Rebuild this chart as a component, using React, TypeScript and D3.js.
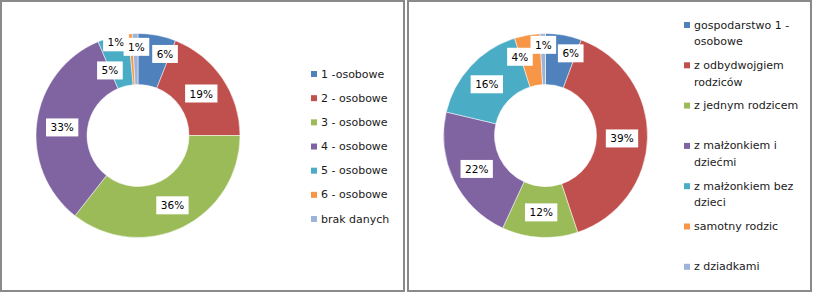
import React from "react";
import * as d3 from "d3";

const leftCategories = ["1 -osobowe", "2 - osobowe", "3 - osobowe", "4 - osobowe", "5 - osobowe", "6 - osobowe", "brak danych"];
const leftValues = [6.0, 19.0, 35.6, 33.0, 4.9, 0.6, 0.9];

const rightCategories = [
  "gospodarstwo 1 -\nosobowe",
  "z odbydwojgiem\nrodziców",
  "z jednym rodzicem",
  "z małżonkiem i\ndziećmi",
  "z małżonkiem bez\ndzieci",
  "samotny rodzic",
  "z dziadkami",
];
const rightValues = [5.7, 39.2, 12.0, 21.8, 16.4, 4.0, 0.9];

const colors = ["#4F81BD", "#C0504D", "#9BBB59", "#8064A2", "#4BACC6", "#F79646", "#9DB3DA"];

// label nudges (layout, px) mimicking Excel's overlap avoidance
const leftNudges: [number, number][] = [[12.7, -6.4], [0, 1], [1, 1], [0, 2], [-9.3, 9.1], [-16.3, -16.9], [0.6, -12.2]];
const rightNudges: [number, number][] = [[11.6, -6.9], [0, 1.5], [0, 0.5], [0, 0], [-2.6, 0.8], [-11.7, -3.5], [0, -14.2]];

const FONT = "DejaVu Sans, Verdana, sans-serif";

let ctx: CanvasRenderingContext2D | null = null;
function textWidth(t: string, size: number) {
  if (!ctx) ctx = document.createElement("canvas").getContext("2d");
  if (!ctx) return t.length * size * 0.6;
  ctx.font = `${size}px ${FONT}`;
  return ctx.measureText(t).width;
}

function Donut({ cx, cy, values, nudges }: { cx: number; cy: number; values: number[]; nudges: [number, number][] }) {
  const outer = 102;
  const inner = 51;
  const pie = d3.pie<number>().sort(null).value((d) => d);
  const arcs = pie(values);
  const arc = d3.arc<d3.PieArcDatum<number>>().innerRadius(inner).outerRadius(outer);
  const labelArc = d3.arc<d3.PieArcDatum<number>>().innerRadius((inner + outer) / 2).outerRadius((inner + outer) / 2);
  const total = d3.sum(values);
  return (
    <g transform={`translate(${cx},${cy})`}>
      {arcs.map((a, i) => (
        <path key={i} d={arc(a) || ""} fill={colors[i]} stroke="#fff" strokeWidth={0.5} />
      ))}
      {arcs.map((a, i) => {
        const [x0, y0] = labelArc.centroid(a);
        const x = x0 + nudges[i][0];
        const y = y0 + nudges[i][1];
        const label = `${Math.round((a.data / total) * 100)}%`;
        const w = textWidth(label, 10.5) + 9;
        const h = 18;
        return (
          <g key={"l" + i}>
            <rect x={x - w / 2} y={y - h / 2} width={w} height={h} fill="#fff" />
            <text x={x} y={y} textAnchor="middle" dominantBaseline="central" fontSize={10.5} fontFamily={FONT} fill="#000">
              {label}
            </text>
          </g>
        );
      })}
    </g>
  );
}

function Legend({ x, y0, step, lineStep, items }: { x: number; y0: number; step: number; lineStep: number; items: string[] }) {
  return (
    <g>
      {items.map((it, i) => {
        const y = y0 + i * step;
        const lines = it.split("\n");
        return (
          <g key={i}>
            <rect x={x} y={y - 3} width={6} height={6} fill={colors[i]} />
            {lines.map((ln, j) => (
              <text key={j} x={x + 10} y={y + j * lineStep} dominantBaseline="central" fontSize={11} fontFamily={FONT} fill="#1a1a1a">
                {ln}
              </text>
            ))}
          </g>
        );
      })}
    </g>
  );
}

export default function App() {
  return (
    <svg width={813} height={293} style={{ position: "absolute", left: 0, top: 0, background: "#fff" }}>
      <rect x={0} y={0} width={813} height={293} fill="#fff" />
      <rect x={1} y={1} width={403} height={290} fill="#fff" stroke="#8a8a8a" strokeWidth={2} />
      <rect x={408} y={1} width={403} height={290} fill="#fff" stroke="#8a8a8a" strokeWidth={2} />
      <Donut cx={138} cy={135.5} values={leftValues} nudges={leftNudges} />
      <Donut cx={545.5} cy={135.5} values={rightValues} nudges={rightNudges} />
      <Legend x={311} y0={74} step={24.17} lineStep={16.7} items={leftCategories} />
      <Legend x={684} y0={25} step={40.3} lineStep={16.7} items={rightCategories} />
    </svg>
  );
}
